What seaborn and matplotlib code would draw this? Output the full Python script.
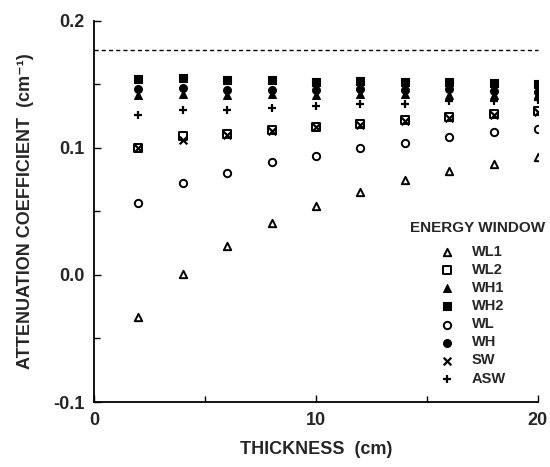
import numpy as np
import pandas as pd
import matplotlib
matplotlib.use("Agg")
import matplotlib.pyplot as plt
import seaborn as sns
from matplotlib.ticker import MultipleLocator, FormatStrFormatter

sns.set_theme(style="ticks")
plt.rcParams['font.family'] = ['Liberation Sans', 'DejaVu Sans']
plt.rcParams['font.weight'] = 'bold'

thickness = [2, 4, 6, 8, 10, 12, 14, 16, 18, 20]
wl1 = [-0.033, 0.001, 0.023, 0.041, 0.054, 0.065, 0.075, 0.082, 0.087, 0.0925]
wl2 = [0.100, 0.109, 0.1105, 0.114, 0.1165, 0.1185, 0.122, 0.124, 0.1265, 0.1285]
wh1 = [0.1415, 0.142, 0.1415, 0.142, 0.1415, 0.142, 0.142, 0.1415, 0.1415, 0.142]
wh2 = [0.154, 0.155, 0.153, 0.153, 0.1515, 0.1525, 0.152, 0.152, 0.151, 0.150]
wl = [0.0565, 0.072, 0.0805, 0.0885, 0.0935, 0.0995, 0.1035, 0.1085, 0.112, 0.1145]
wh = [0.146, 0.147, 0.1455, 0.1455, 0.1455, 0.146, 0.1455, 0.146, 0.1445, 0.144]
sw = [0.100, 0.106, 0.110, 0.113, 0.116, 0.118, 0.121, 0.123, 0.126, 0.128]
asw = [0.126, 0.130, 0.130, 0.131, 0.1325, 0.134, 0.134, 0.137, 0.137, 0.1375]
reference_value = 0.177

series = [
    ("WL1", wl1, "^", False),
    ("WL2", wl2, "s", False),
    ("WH1", wh1, "^", True),
    ("WH2", wh2, "s", True),
    ("WL", wl, "o", False),
    ("WH", wh, "o", True),
    ("SW", sw, "x", None),
    ("ASW", asw, "+", None),
]

fig = plt.figure(figsize=(5.5, 4.67), dpi=100)
ax = fig.add_axes([0.171, 0.139, 0.807, 0.817])

for name, vals, mk, filled in series:
    df = pd.DataFrame({"x": thickness, "y": vals})
    if filled is None:
        sns.scatterplot(data=df, x="x", y="y", marker=mk, color="black",
                        s=30, linewidth=1.6, ax=ax, label=name)
    elif filled:
        sns.scatterplot(data=df, x="x", y="y", marker=mk, color="black",
                        edgecolor="black", s=32, linewidth=0.8, ax=ax, label=name)
    else:
        sns.scatterplot(data=df, x="x", y="y", marker=mk, facecolor="white",
                        edgecolor="black", s=28, linewidth=1.4, ax=ax, label=name)

ax.axhline(reference_value, color="black", lw=1.0, ls=(0, (3, 2.2)), clip_on=False)

ax.set_xlim(0, 20)
ax.set_ylim(-0.1, 0.2)
ax.xaxis.set_major_locator(MultipleLocator(10))
ax.xaxis.set_minor_locator(MultipleLocator(5))
ax.yaxis.set_major_locator(MultipleLocator(0.1))
ax.yaxis.set_minor_locator(MultipleLocator(0.05))
ax.yaxis.set_major_formatter(FormatStrFormatter('%.1f'))
ax.tick_params(which='both', direction='in', color='black', width=1.0)
ax.tick_params(which='major', length=5, labelsize=13, pad=7)
ax.tick_params(which='minor', length=4)
for lbl in ax.get_xticklabels() + ax.get_yticklabels():
    lbl.set_fontweight('bold')
sns.despine(ax=ax)
for sp in ['left', 'bottom']:
    ax.spines[sp].set_linewidth(1.3)
    ax.spines[sp].set_color('black')

ax.set_xlabel("THICKNESS  (cm)", fontsize=13, fontweight='bold', labelpad=9)
ax.set_ylabel("ATTENUATION COEFFICIENT  (cm\u207b\u00b9)", fontsize=13,
              fontweight='bold', labelpad=14)

leg = ax.legend(loc="upper left", bbox_to_anchor=(440 / 550, 1 - 245 / 467),
                bbox_transform=fig.transFigure, frameon=False,
                fontsize=10.5, handlelength=1.0, handletextpad=1.2,
                labelspacing=0.28, borderaxespad=0, borderpad=0)
for t in leg.get_texts():
    t.set_fontweight('bold')
fig.text(478 / 550, 1 - 228 / 467, "ENERGY WINDOW", ha='center', va='center',
         fontsize=11, fontweight='bold')

fig.savefig("out.png", dpi=100)
